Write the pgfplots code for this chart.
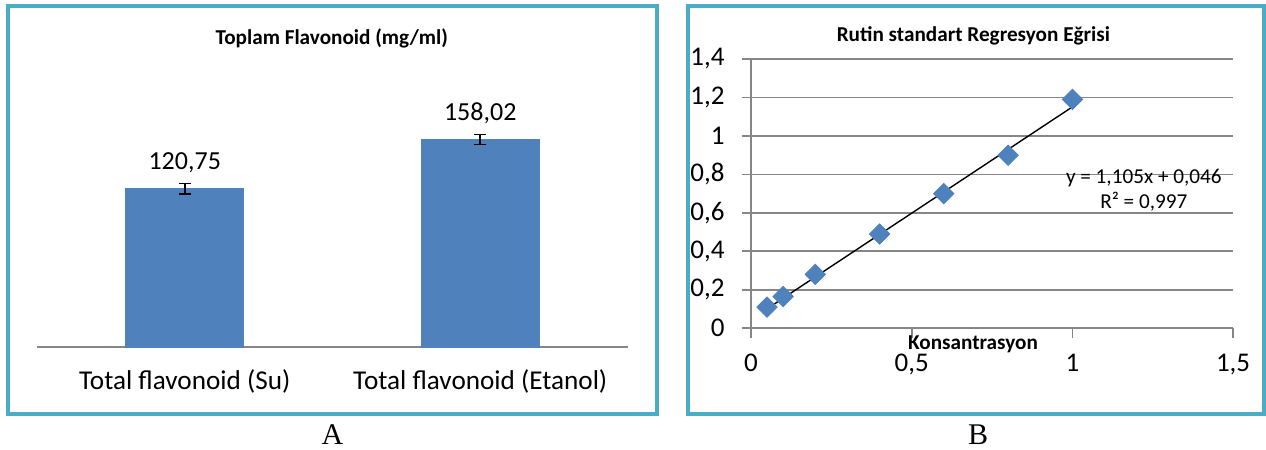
\documentclass[border=0pt]{standalone}
\usepackage{pgfplots}
\usepackage{pgfplotstable}
\pgfplotsset{compat=1.18}
\usepackage{fontspec}
\setmainfont{Carlito}
\newfontfamily\timesfont{Liberation Serif}
\definecolor{barblue}{HTML}{4F81BD}
\definecolor{framecol}{HTML}{4BACC6}
\definecolor{axgray}{HTML}{868686}

\pgfplotstableread{
x y err label
0 120.75 4.0 120,75
1 158.02 3.8 158,02
}\bardata

\pgfplotstableread{
x y
0.05 0.11
0.1 0.165
0.2 0.28
0.4 0.49
0.6 0.70
0.8 0.90
1.0 1.19
}\rutin

\begin{document}
\begin{tikzpicture}[x=1pt,y=1pt]
\path[use as bounding box] (0,0) rectangle (633,225);
\draw[framecol, line width=2pt] (3.75,18) rectangle (328.5,222);
\draw[framecol, line width=2pt] (344,17.75) rectangle (631.75,222);

\begin{axis}[
  at={(18.5pt,51.5pt)}, anchor=south west,
  scale only axis, width=295.5pt, height=131.2pt,
  xmin=-0.5, xmax=1.5, ymin=0, ymax=200,
  axis x line=bottom, axis y line=none,
  axis line style={-, axgray, line width=0.9pt},
  xtick={0,1}, xticklabels={Total flavonoid (Su), Total flavonoid (Etanol)},
  major tick length=0pt,
  xticklabel style={font=\fontsize{13.6}{15}\selectfont, anchor=base, yshift=-21.5pt},
  ytick=\empty,
  clip=false,
]
\addplot[ybar, bar width=59pt, fill=barblue, draw=barblue,
  error bars/.cd, y dir=both, y explicit,
  error bar style={black, line width=0.8pt},
  error mark options={black, line width=0.8pt, mark size=2.9pt, rotate=90}]
  table[x=x, y=y, y error=err] {\bardata};
\addplot[draw=none, nodes near coords, point meta=explicit symbolic,
  nodes near coords style={anchor=base, yshift=9.7pt, font=\fontsize{13}{15}\selectfont, black}]
  table[x=x, y=y, meta=label] {\bardata};
\end{axis}

\begin{axis}[
  at={(375.5pt,60.85pt)}, anchor=south west,
  scale only axis, width=241.05pt, height=134.65pt,
  xmin=0, xmax=1.5, ymin=0, ymax=1.4,
  axis x line=bottom, axis y line=left,
  axis line style={-, axgray, line width=0.9pt},
  xtick={0,0.5,1,1.5}, xticklabels={0,{0,5},1,{1,5}},
  ytick={0,0.2,0.4,0.6,0.8,1,1.2,1.4},
  yticklabels={0,{0,2},{0,4},{0,6},{0,8},1,{1,2},{1,4}},
  ymajorgrids, grid style={axgray, line width=0.9pt},
  tick align=outside, major tick length=4.7pt,
  tick style={axgray, line width=0.9pt},
  ticklabel style={font=\fontsize{13.5}{15}\selectfont},
  xticklabel style={anchor=base, yshift=-17pt, inner sep=0pt},
  yticklabel style={anchor=east, xshift=-5pt},
  clip=false,
]
\addplot[only marks, mark=square*, mark size=3.6pt,
  mark options={rotate=45, fill=barblue, draw=barblue}] table[x=x, y=y] {\rutin};
\addplot[black, line width=0.7pt] coordinates {(0.05,0.10125) (1,1.151)};
\end{axis}

\node[anchor=base, font=\bfseries\fontsize{10.6}{12}\selectfont] at (165.9,202.8) {Toplam Flavonoid (mg/ml)};
\node[anchor=base, font=\bfseries\fontsize{10.6}{12}\selectfont] at (486.7,204.2) {Rutin standart Regresyon Eğrisi};
\node[anchor=base, inner sep=0pt, font=\bfseries\fontsize{10.6}{12}\selectfont] at (486.5,50.4) {Konsantrasyon};
\node[anchor=base, font=\fontsize{10.6}{12}\selectfont] at (571.9,133.3) {y = 1,105x + 0,046};
\node[anchor=base, font=\fontsize{10.6}{12}\selectfont] at (571.9,120.5) {R² = 0,997};
\node[anchor=base, font=\timesfont\fontsize{15}{17}\selectfont] at (166.25,2.5) {A};
\node[anchor=base, font=\timesfont\fontsize{15}{17}\selectfont] at (489,2.5) {B};
\end{tikzpicture}
\end{document}
